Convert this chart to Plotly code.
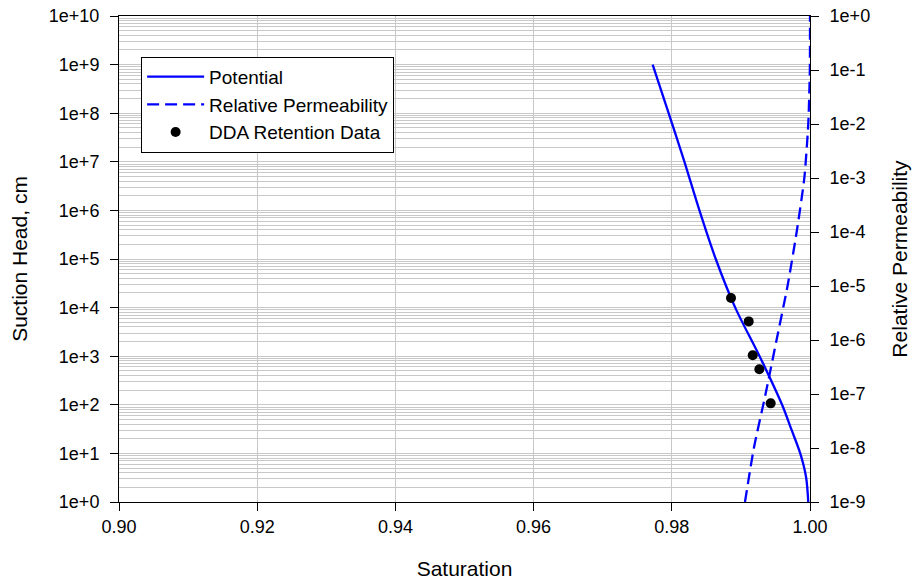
import plotly.graph_objects as go

# ---- data ----
sat_potential = [0.97723, 0.97954, 0.98183, 0.98400, 0.98636, 0.98918, 0.99270,
                 0.99596, 0.99735, 0.99859, 0.99944, 0.99975]
head_potential = [1.0e9, 1.0e8, 1.0e7, 1.0e6, 1.0e5, 1.0e4, 1.0e3,
                  1.0e2, 30, 10, 3.2, 1.0]

sat_kr = [0.99059, 0.99188, 0.99357, 0.99516, 0.99675, 0.99807, 0.99918,
          0.99975, 0.99998, 1.0]
kr_values = [1.0e-9, 1.0e-8, 1.0e-7, 1.0e-6, 1.0e-5, 1.0e-4, 1.0e-3,
             1.0e-2, 1.0e-1, 1.0]

sat_data = [0.98857, 0.99113, 0.99171, 0.99267, 0.99431]
head_data = [1.58e4, 5.2e3, 1.05e3, 540, 107]

x_tickvals = [0.90, 0.92, 0.94, 0.96, 0.98, 1.00]
x_ticktext = ["0.90", "0.92", "0.94", "0.96", "0.98", "1.00"]
left_tickvals = [1, 1e1, 1e2, 1e3, 1e4, 1e5, 1e6, 1e7, 1e8, 1e9, 1e10]
left_ticktext = ["1e+0", "1e+1", "1e+2", "1e+3", "1e+4", "1e+5", "1e+6",
                 "1e+7", "1e+8", "1e+9", "1e+10"]
right_tickvals = [1e-9, 1e-8, 1e-7, 1e-6, 1e-5, 1e-4, 1e-3, 1e-2, 1e-1, 1]
right_ticktext = ["1e-9", "1e-8", "1e-7", "1e-6", "1e-5", "1e-4", "1e-3",
                  "1e-2", "1e-1", "1e+0"]

minor_vals = [m * dec for dec in left_tickvals[:-1] for m in range(2, 10)]

FONT = "Liberation Sans, Arial, sans-serif"
GRID = "#c8c8c8"
BLUE = "#0000ff"

fig = go.Figure()
fig.add_trace(go.Scatter(x=sat_potential, y=head_potential, mode="lines",
                         name="Potential",
                         line=dict(color=BLUE, width=2.3, shape="spline", smoothing=0.8)))
fig.add_trace(go.Scatter(x=sat_kr, y=kr_values, mode="lines", yaxis="y2",
                         name="Relative Permeability",
                         line=dict(color=BLUE, width=2.3, dash="12px,6px",
                                   shape="spline", smoothing=0.6)))
fig.add_trace(go.Scatter(x=sat_data, y=head_data, mode="markers",
                         name="DDA Retention Data",
                         marker=dict(color="black", size=10)))

fig.update_layout(
    width=914, height=585,
    margin=dict(l=119, r=104, t=16, b=83, autoexpand=False),
    plot_bgcolor="white", paper_bgcolor="white",
    font=dict(family=FONT, color="black", size=18),
    showlegend=True,
    legend=dict(x=0.032, y=0.916, xanchor="left", yanchor="top",
                bordercolor="black", borderwidth=1, bgcolor="white",
                font=dict(size=19, family=FONT), tracegroupgap=0,
                itemwidth=57),
    xaxis=dict(range=[0.9, 1.0], tickmode="array", tickvals=x_tickvals,
               ticktext=x_ticktext, ticks="outside", ticklen=8, tickcolor="black",
               ticklabelstandoff=0,
               showline=True, linecolor="black", linewidth=1, mirror=True,
               showgrid=True, gridcolor=GRID, gridwidth=1, zeroline=False,
               tickfont=dict(size=18),
               title=dict(text="Saturation", font=dict(size=21), standoff=25)),
    yaxis=dict(type="log", range=[0, 10], tickmode="array", tickvals=left_tickvals,
               ticktext=left_ticktext, ticks="outside", ticklen=8, tickcolor="black",
               ticklabelstandoff=7,
               showline=True, linecolor="black", linewidth=1,
               showgrid=True, gridcolor=GRID, gridwidth=1, zeroline=False,
               minor=dict(tickmode="array", tickvals=minor_vals, showgrid=True,
                          gridcolor=GRID, gridwidth=1, ticks=""),
               tickfont=dict(size=18),
               title=dict(text="Suction Head, cm", font=dict(size=21), standoff=15)),
    yaxis2=dict(type="log", range=[-9, 0], overlaying="y", side="right",
                tickmode="array", tickvals=right_tickvals, ticktext=right_ticktext,
                ticks="outside", ticklen=8, tickcolor="black", ticklabelstandoff=7,
                showline=True, linecolor="black", linewidth=1,
                showgrid=False, zeroline=False, tickfont=dict(size=18),
                title=dict(text="Relative Permeability", font=dict(size=21),
                           standoff=23)),
)

fig.write_html("out.html")
